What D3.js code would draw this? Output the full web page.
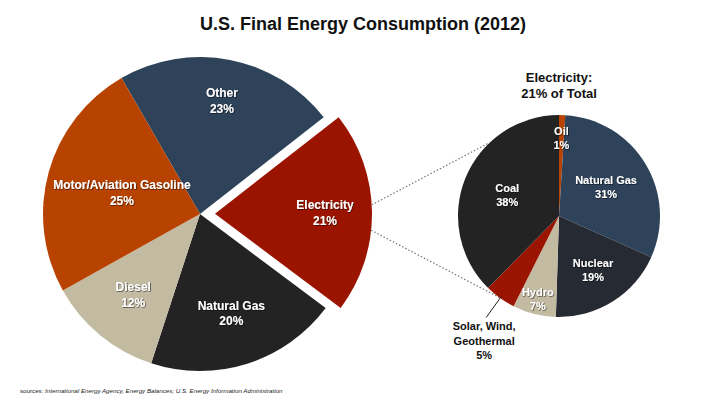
<!DOCTYPE html>
<html lang="en">
<head>
    <meta charset="utf-8">
    <title>U.S. Final Energy Consumption (2012)</title>
    <script src="https://cdn.jsdelivr.net/npm/d3@7"></script>
    <style>
        body { margin: 0; background: #fff; }
        text { font-family: "Liberation Sans", Arial, sans-serif; }
    </style>
</head>
<body>
<script>
    // data
    var mainCategories = ["Other", "Electricity", "Natural Gas", "Diesel", "Motor/Aviation Gasoline"];
    var mainValues = [23, 21, 20, 12, 25];
    var elecCategories = ["Oil", "Natural Gas", "Nuclear", "Hydro", "Solar, Wind, Geothermal", "Coal"];
    var elecLabelLines = [["Oil"], ["Natural Gas"], ["Nuclear"], ["Hydro"], ["Solar, Wind,", "Geothermal"], ["Coal"]];
    var elecValues = [1, 31, 19, 7, 5, 38];

    // sizes
    var w = 720, h = 405;
    var deg = Math.PI / 180;

    var colors = {
        "Other": "#2e4359", "Electricity": "#9b1400", "Natural Gas": "#232323",
        "Diesel": "#c3baa2", "Motor/Aviation Gasoline": "#b84300"
    };
    var elecColors = {
        "Oil": "#b84300", "Natural Gas": "#2e4359", "Nuclear": "#262a33",
        "Hydro": "#c3baa2", "Solar, Wind, Geothermal": "#9b1400", "Coal": "#232323"
    };
    // radius of the label for each slice
    var mainLabelR = { "Other": 115, "Electricity": 110, "Natural Gas": 104, "Diesel": 105, "Motor/Aviation Gasoline": 81 };
    var elecLabelR = { "Oil": 78, "Natural Gas": 55, "Nuclear": 64, "Hydro": 86, "Coal": 56 };

    var svg = d3.select("body").append("svg")
        .attr("width", w).attr("height", h);

    var defs = svg.append("defs");
    defs.append("filter").attr("id", "shadow")
        .attr("x", "-20%").attr("y", "-20%").attr("width", "140%").attr("height", "140%")
        .append("feDropShadow")
        .attr("dx", 0.7).attr("dy", 0.7).attr("stdDeviation", 0.5)
        .attr("flood-color", "#000").attr("flood-opacity", 0.7);

    // title
    svg.append("text")
        .attr("x", 363).attr("y", 30)
        .attr("text-anchor", "middle")
        .style("font-size", "18px").style("font-weight", "bold").style("fill", "#111")
        .text("U.S. Final Energy Consumption (2012)");

    // ---- big pie ----
    var cx = 200, cy = 214, R = 157, explode = 15;
    var pie = d3.pie().sort(null)
        .startAngle(-30 * deg).endAngle(330 * deg);
    var arcs = pie(mainValues).map(function (d, i) {
        d.name = mainCategories[i];
        return d;
    });
    var arc = d3.arc().innerRadius(0).outerRadius(R);

    function offsetOf(d) {
        if (d.name != "Electricity") return [0, 0];
        var a = (d.startAngle + d.endAngle) / 2;
        return [explode * Math.sin(a), -explode * Math.cos(a)];
    }

    var big = svg.append("g").attr("transform", "translate(" + cx + "," + cy + ")");
    var slices = big.selectAll("g.slice")
        .data(arcs)
        .enter()
        .append("g")
        .attr("class", "slice")
        .attr("transform", function (d) {
            var o = offsetOf(d);
            return "translate(" + o[0] + "," + o[1] + ")";
        });
    slices.append("path")
        .attr("d", arc)
        .style("fill", function (d) { return colors[d.name]; });

    function label(g, lines, size, gap) {
        var n = lines.length;
        g.selectAll("text")
            .data(lines)
            .enter()
            .append("text")
            .attr("text-anchor", "middle")
            .attr("y", function (t, i) { return (i - (n - 1) / 2) * gap + size * 0.36; })
            .style("font-size", size + "px")
            .style("font-weight", "bold")
            .text(function (t) { return t; });
    }

    slices.each(function (d) {
        var a = (d.startAngle + d.endAngle) / 2;
        var r = mainLabelR[d.name];
        var g = d3.select(this).append("g")
            .attr("transform", "translate(" + (r * Math.sin(a)) + "," + (-r * Math.cos(a)) + ")")
            .attr("filter", "url(#shadow)")
            .style("fill", "#fff");
        label(g, [d.name, d.value + "%"], 12, 16);
    });

    // ---- electricity pie ----
    var ex = 559, ey = 216, r2 = 101;
    var pie2 = d3.pie().sort(null);
    var arcs2 = pie2(elecValues).map(function (d, i) {
        d.name = elecCategories[i];
        d.lines = elecLabelLines[i];
        return d;
    });
    var arc2 = d3.arc().innerRadius(0).outerRadius(r2);

    // dotted connector lines
    var elec = arcs[1];
    var eo = offsetOf(elec);
    var conn = [[86.7, 316.6], [96, 216]];
    svg.append("g").selectAll("line")
        .data(conn)
        .enter()
        .append("line")
        .attr("x1", function (d) { return cx + eo[0] + R * Math.sin(d[0] * deg); })
        .attr("y1", function (d) { return cy + eo[1] - R * Math.cos(d[0] * deg); })
        .attr("x2", function (d) { return ex + r2 * Math.sin(d[1] * deg); })
        .attr("y2", function (d) { return ey - r2 * Math.cos(d[1] * deg); })
        .style("stroke", "#777")
        .style("stroke-width", 1.2)
        .style("stroke-dasharray", "1.5,2");

    var small = svg.append("g").attr("transform", "translate(" + ex + "," + ey + ")");
    small.selectAll("path")
        .data(arcs2)
        .enter()
        .append("path")
        .attr("d", arc2)
        .style("fill", function (d) { return elecColors[d.name]; });

    arcs2.forEach(function (d) {
        var a = (d.startAngle + d.endAngle) / 2;
        var r = elecLabelR[d.name];
        if (r === undefined) return;
        var g = small.append("g")
            .attr("transform", "translate(" + (r * Math.sin(a)) + "," + (-r * Math.cos(a)) + ")")
            .attr("filter", "url(#shadow)")
            .style("fill", "#fff");
        label(g, d.lines.concat([d.value + "%"]), 11, 14);
    });

    // outside label for the small renewables slice
    var sw = arcs2[4];
    var sa = (sw.startAngle + sw.endAngle) / 2;
    var l1 = [r2 * 0.98 * Math.sin(sa), -r2 * 0.98 * Math.cos(sa)];
    var l2 = [125 * Math.sin(sa), -125 * Math.cos(sa)];
    small.append("line")
        .attr("x1", l1[0]).attr("y1", l1[1])
        .attr("x2", l2[0]).attr("y2", l2[1])
        .style("stroke", "#222").style("stroke-width", 1);
    var sg = small.append("g")
        .attr("transform", "translate(" + (l2[0] - 2) + "," + (l2[1] + 23) + ")")
        .style("fill", "#111");
    label(sg, sw.lines.concat([sw.value + "%"]), 11, 14.3);

    // subtitle of the small pie
    var sub = svg.append("g").attr("transform", "translate(" + ex + ",85)").style("fill", "#111");
    label(sub, ["Electricity:", "21% of Total"], 13, 16);

    // sources
    var src = svg.append("text")
        .attr("x", 20).attr("y", 393)
        .style("font-size", "6.2px").style("fill", "#222");
    src.append("tspan").text("sources: ");
    src.append("tspan").style("font-style", "italic")
        .text("International Energy Agency, Energy Balances; U.S. Energy Information Administration");
</script>
</body>
</html>
